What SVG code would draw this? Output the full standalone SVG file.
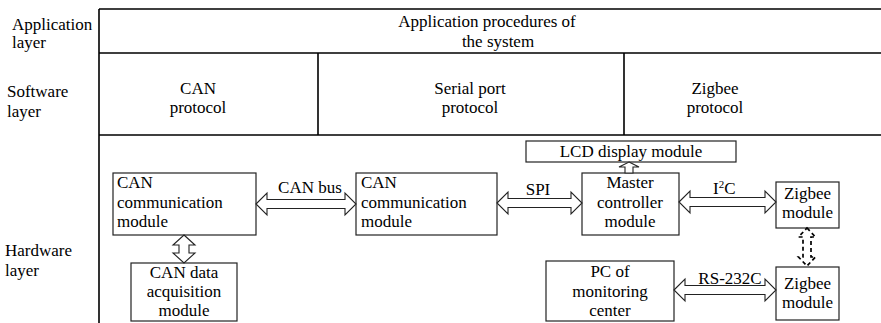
<svg xmlns="http://www.w3.org/2000/svg" width="881" height="323" viewBox="0 0 881 323" font-family="'Liberation Serif', 'Times New Roman', Times, 'DejaVu Serif', serif">
<style>
text{font-family:'Liberation Serif','Times New Roman',Times,'DejaVu Serif',serif;font-size:17px;fill:#000}
.c{text-anchor:middle}
.frame{stroke:#000;stroke-width:1.6;fill:none}
.box{fill:#fff;stroke:#222;stroke-width:1.2}
.arr{fill:#fff;stroke:#222;stroke-width:1.1;stroke-linejoin:miter}
.dash{fill:none;stroke:#000;stroke-width:1.7;stroke-dasharray:4 3}
</style>
<rect width="881" height="323" fill="#fff"/>
<g id="layers">
<path class="frame" d="M99,9H881M99,53H881M99,135H881M99,9V323M318,53V135M624,53V135"/>
<text x="12" y="30">Application</text>
<text x="12" y="48">layer</text>
<text x="7" y="97">Software</text>
<text x="7" y="117">layer</text>
<text x="5" y="256">Hardware</text>
<text x="5" y="276">layer</text>
</g>
<g id="app"><text class="c" x="487" y="27">Application procedures of</text><text class="c" x="498" y="47">the system</text></g>
<g id="sw-can"><text class="c" x="198" y="94">CAN</text><text class="c" x="198" y="113">protocol</text></g>
<g id="sw-serial"><text class="c" x="470" y="94">Serial port</text><text class="c" x="470" y="113">protocol</text></g>
<g id="sw-zigbee"><text class="c" x="715" y="94">Zigbee</text><text class="c" x="715" y="113">protocol</text></g>
<g id="can1"><rect class="box" x="113" y="173" width="143" height="62"/><text x="117" y="188">CAN</text><text x="117" y="208">communication</text><text x="117" y="227">module</text></g>
<g id="canacq"><rect class="box" x="131" y="263" width="106" height="58"/><text class="c" x="184" y="278">CAN data</text><text class="c" x="184" y="297">acquisition</text><text class="c" x="184" y="316">module</text></g>
<g id="can2"><rect class="box" x="356" y="173" width="141" height="62"/><text x="361" y="188">CAN</text><text x="361" y="208">communication</text><text x="361" y="227">module</text></g>
<g id="lcd"><rect class="box" x="526" y="141" width="210" height="21"/><text class="c" x="631" y="157">LCD display module</text></g>
<g id="master"><rect class="box" x="582" y="173" width="97" height="62"/><text class="c" x="630" y="188">Master</text><text class="c" x="630" y="208">controller</text><text class="c" x="630" y="227">module</text></g>
<g id="zig1"><rect class="box" x="776" y="182" width="63" height="46"/><text class="c" x="807.5" y="199">Zigbee</text><text class="c" x="807.5" y="218">module</text></g>
<g id="zig2"><rect class="box" x="776" y="267" width="63" height="53"/><text class="c" x="807.5" y="289">Zigbee</text><text class="c" x="807.5" y="308">module</text></g>
<g id="pc"><rect class="box" x="546" y="261" width="128" height="60"/><text class="c" x="610" y="277">PC of</text><text class="c" x="610" y="297">monitoring</text><text class="c" x="610" y="316">center</text></g>
<g id="connectors">
<polygon class="arr" points="256,204 267,193 267,199.5 345,199.5 345,193 356,204 345,215 345,208.5 267,208.5 267,215"/>
<polygon class="arr" points="497,203 508,192 508,198.5 571,198.5 571,192 582,203 571,214 571,207.5 508,207.5 508,214"/>
<polygon class="arr" points="679,202 690,191 690,197.5 765,197.5 765,191 776,202 765,213 765,206.5 690,206.5 690,213"/>
<polygon class="arr" points="674,290 685,279 685,285.5 765,285.5 765,279 776,290 765,301 765,294.5 685,294.5 685,301"/>
<polygon class="arr" points="184,235 195,245 189,245 189,253 195,253 184,263 173,253 179,253 179,245 173,245"/>
<polygon class="arr" points="629,162 639,167 633,167 633,173 625,173 625,167 619,167"/>
<polygon class="dash" points="807,228 815.5,237 811,237 811,257 815.5,257 807,266 798.5,257 803,257 803,237 798.5,237"/>
<text class="c" x="310" y="193">CAN bus</text>
<text class="c" x="538" y="195">SPI</text>
<text x="713" y="194">I<tspan font-size="11" dy="-6">2</tspan><tspan dy="6">C</tspan></text>
<text class="c" x="730" y="284">RS-232C</text>
</g>
</svg>
